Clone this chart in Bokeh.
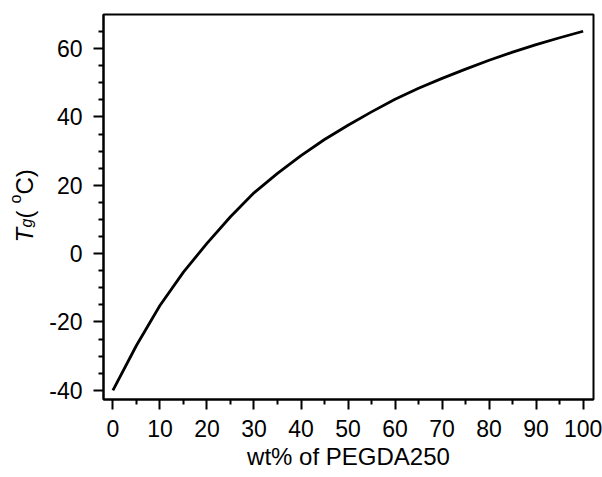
import math
from bokeh.plotting import figure
from bokeh.layouts import row
from bokeh.models import Range1d, FixedTicker
from bokeh.core.properties import value
from bokeh.embed import file_html
from bokeh.resources import INLINE

# ---- data ----
wt_pct = [0, 5, 10, 15, 20, 25, 30, 35, 40, 45, 50, 55, 60, 65, 70, 75, 80, 85, 90, 95, 100]
tg_c = [-40.0, -26.9, -15.2, -5.4, 3.0, 10.8, 17.8, 23.5, 28.7, 33.4, 37.6, 41.5, 45.2,
        48.4, 51.3, 54.0, 56.6, 59.0, 61.2, 63.2, 65.1]
x_major = [0, 10, 20, 30, 40, 50, 60, 70, 80, 90, 100]
x_minor = [5, 15, 25, 35, 45, 55, 65, 75, 85, 95]
y_major = [-40, -20, 0, 20, 40, 60]
y_minor = [-35, -30, -25, -15, -10, -5, 5, 10, 15, 25, 30, 35, 45, 50, 55, 65]
x_label = "wt% of PEGDA250"
y_label_parts = ["T", "g", " (", "o", "C)"]

# ---- layout (pixels) ----
TOTAL_W, TOTAL_H = 602, 477
LW = 40            # width of the y-label strip
FL, FR, FT, FB = 103, 593, 14, 399   # frame edges in page px
X0, X1 = -2.0, 102.2
Y0, Y1 = -42.7, 70.0
FONT = "Liberation Sans"

# ---- main plot ----
MW = TOTAL_W - LW
p = figure(width=MW, height=TOTAL_H, output_backend="svg", toolbar_location=None,
           sizing_mode="fixed",
           x_range=Range1d(X0, X1), y_range=Range1d(Y0, Y1),
           min_border_left=FL - LW, min_border_right=TOTAL_W - FR,
           min_border_top=FT, min_border_bottom=TOTAL_H - FB)
p.background_fill_color = "white"
p.border_fill_color = "white"
p.grid.visible = False
p.outline_line_color = "black"
p.outline_line_width = 2

p.line(wt_pct, tg_c, line_color="black", line_width=2.8)

for ax in (p.xaxis[0], p.yaxis[0]):
    ax.axis_line_width = 2
    ax.axis_line_color = "black"
    ax.major_tick_line_width = 2
    ax.minor_tick_line_width = 2
    ax.major_tick_in = 0
    ax.major_tick_out = 10
    ax.minor_tick_in = 0
    ax.minor_tick_out = 5
    ax.major_label_text_font = FONT
    ax.major_label_text_font_size = "23px"
    ax.major_label_text_color = "black"

p.xaxis[0].major_label_standoff = 10
p.yaxis[0].major_label_standoff = 11
p.xaxis[0].ticker = FixedTicker(ticks=x_major, minor_ticks=x_minor)
p.yaxis[0].ticker = FixedTicker(ticks=y_major, minor_ticks=y_minor)
p.yaxis[0].major_label_overrides = {v: str(v) for v in y_major}

p.xaxis[0].axis_label = x_label
p.xaxis[0].axis_label_text_font = FONT
p.xaxis[0].axis_label_text_font_size = "24px"
p.xaxis[0].axis_label_text_font_style = "normal"
p.xaxis[0].axis_label_text_color = "black"
p.xaxis[0].axis_label_standoff = 3

# ---- y label strip (rotated pieces: T italic, subscript g, superscript o) ----
# its frame is aligned with the main frame (rows align frames), so its
# vertical range spans the frame's page rows, counted from the bottom.
ylab = figure(width=LW, height=TOTAL_H, output_backend="svg", toolbar_location=None,
              title=None, sizing_mode="fixed",
              x_range=Range1d(0, LW), y_range=Range1d(TOTAL_H - FB, TOTAL_H - FT),
              x_axis_location=None, y_axis_location=None,
              min_border_left=0, min_border_right=0,
              min_border_top=FT, min_border_bottom=TOTAL_H - FB)
ylab.grid.visible = False
ylab.outline_line_color = None
ylab.background_fill_color = "white"
ylab.border_fill_color = "white"

piece_style = [
    # anchor x, start y (page px), size, style
    (23.5, 242, "24px", "italic"),
    (25.5, 227, "16px", "italic"),
    (23.5, 218, "24px", "normal"),
    (15.0, 203, "16px", "normal"),
    (23.5, 194, "24px", "normal"),
]
for txt, (bx, sy, size, style) in zip(y_label_parts, piece_style):
    ylab.text(x=[bx], y=[TOTAL_H - sy], text=[txt], angle=math.pi / 2,
              text_align="left", text_baseline="alphabetic",
              text_font=value(FONT), text_font_size=value(size),
              text_font_style=style, text_color="black")

layout = row(ylab, p, sizing_mode="fixed")
open("out.html", "w").write(file_html(layout, INLINE))
